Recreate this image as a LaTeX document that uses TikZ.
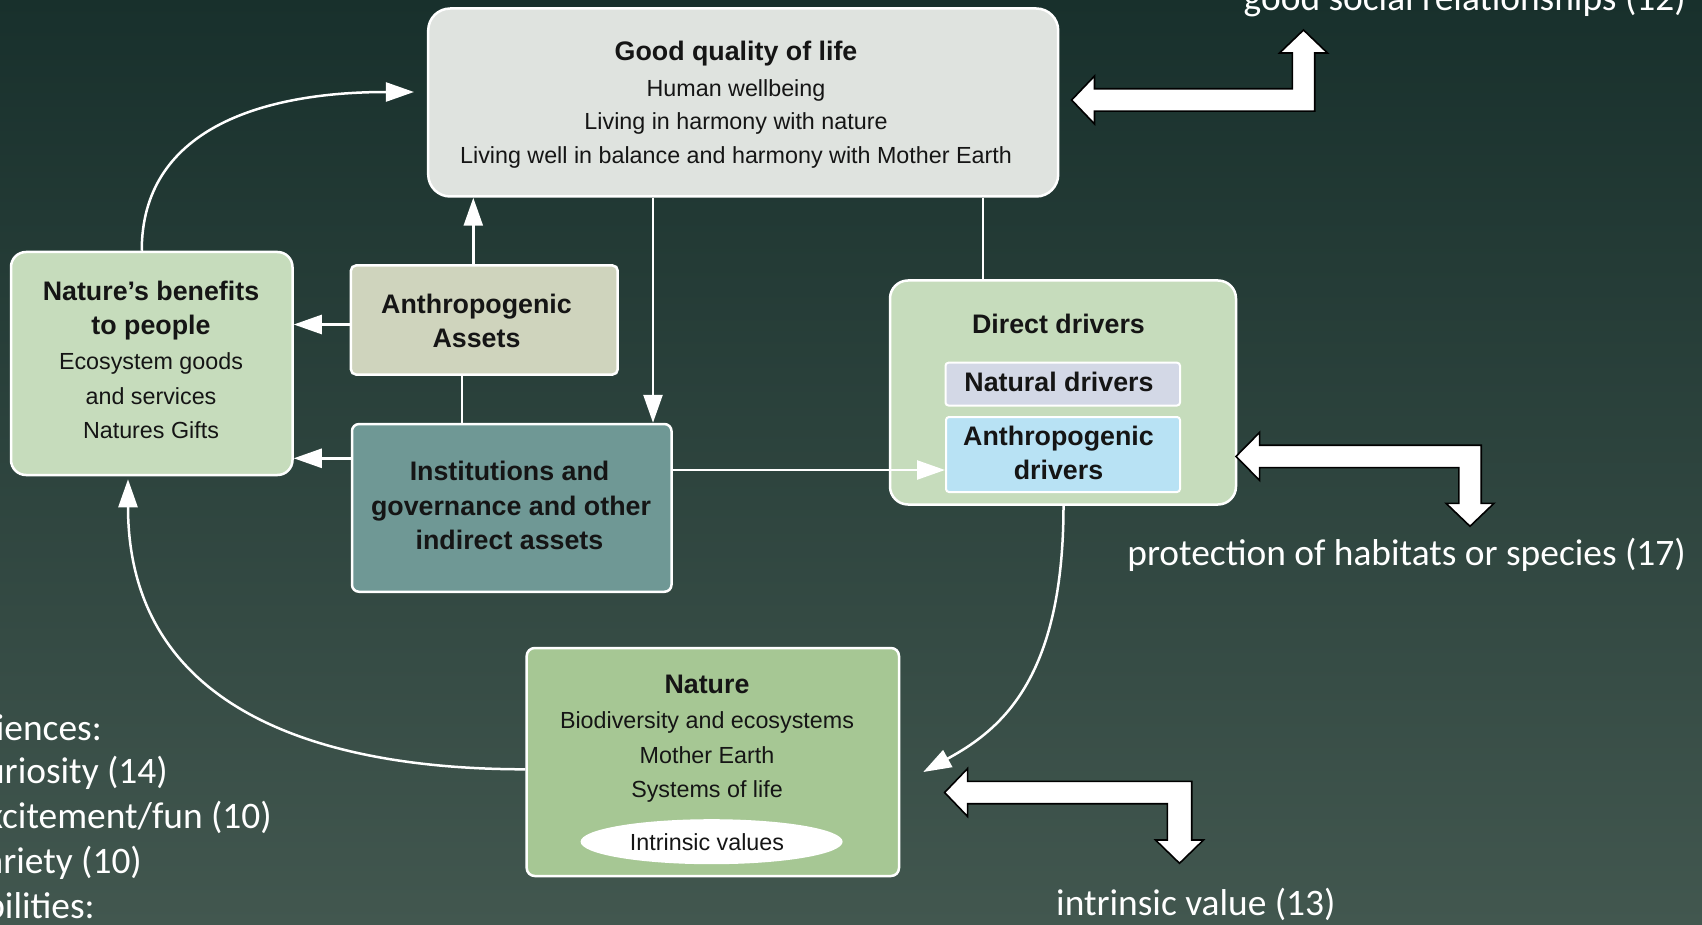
\documentclass[tikz,border=0pt]{standalone}
\usepackage{fontspec}
\setmainfont{Liberation Sans}
\newfontfamily\notefont{Carlito}
\usetikzlibrary{arrows.meta,shapes.geometric}

\definecolor{bgtop}{HTML}{18302C}
\definecolor{bgmid}{HTML}{2B423D}
\definecolor{bgbot}{HTML}{42574F}
\definecolor{inkc}{HTML}{151515}
\definecolor{gqfill}{HTML}{DFE3DF}
\definecolor{nbfill}{HTML}{C6DCBC}
\definecolor{aafill}{HTML}{CFD4BD}
\definecolor{instfill}{HTML}{6F9895}
\definecolor{ddfill}{HTML}{C6DCBC}
\definecolor{ndfill}{HTML}{D3D8E6}
\definecolor{adfill}{HTML}{B8E2F4}
\definecolor{natfill}{HTML}{A6C794}

\begin{document}
\begin{tikzpicture}[x=1pt,y=-1pt,
  box/.style={draw=white, line width=2.5pt, inner sep=0pt, rectangle},
  subbox/.style={draw=white, line width=2pt, inner sep=0pt, rectangle, rounded corners=3pt},
  link/.style={draw=white, line width=2.5pt},
  flow/.style={link, -{Triangle[length=28pt,width=19pt]}},
  head/.style={font=\fontsize{26.8}{30}\selectfont\bfseries, anchor=base, text=inkc, inner sep=0pt},
  body/.style={font=\fontsize{23.3}{27}\selectfont, anchor=base, text=inkc, inner sep=0pt},
  note/.style={font=\notefont\fontsize{37.4}{44}\selectfont, text=white, inner sep=0pt},
  elbow/.style={fill=white, draw=black, line width=1.6pt, line join=miter}
]
\useasboundingbox (0,0) rectangle (1702,925);

% background
\shade[top color=bgtop, middle color=bgmid, bottom color=bgbot] (0,0) rectangle (1702,925);

% ---------- boxes ----------
\node[box, fill=gqfill, rounded corners=22pt, minimum width=630pt, minimum height=188pt] (gq) at (743.2,102.5) {};
\node[box, fill=nbfill, rounded corners=15pt, minimum width=281.5pt, minimum height=223pt] (nb) at (151.75,363.5) {};
\node[box, fill=aafill, rounded corners=5pt, minimum width=266.7pt, minimum height=109pt] (aa) at (484.3,320) {};
\node[box, fill=instfill, rounded corners=7pt, minimum width=319.5pt, minimum height=167.7pt] (inst) at (511.75,507.9) {};
\node[box, fill=ddfill, rounded corners=18pt, minimum width=346pt, minimum height=224pt] (dd) at (1063,392.5) {};
\node[subbox, fill=ndfill, minimum width=234.5pt, minimum height=42.8pt] (nd) at (1062.75,384.1) {};
\node[subbox, fill=adfill, minimum width=234pt, minimum height=75pt] (ad) at (1063,454.5) {};
\node[box, fill=natfill, rounded corners=8pt, minimum width=372.3pt, minimum height=228pt] (nat) at (712.85,762) {};
\node[ellipse, fill=white, inner sep=0pt, minimum width=262pt, minimum height=45pt] (iv) at (711.6,841.7) {};

% ---------- box texts ----------
\node[head] (gq1) at (736,60.7) {Good quality of life};
\node[body] (gq2) at (736,96.7) {Human wellbeing};
\node[body] (gq3) at (736,130) {Living in harmony with nature};
\node[body] (gq4) at (736,164) {Living well in balance and harmony with Mother Earth};

\node[head] (nb1) at (151,300) {Nature’s benefits};
\node[head] (nb2) at (151,334.5) {to people};
\node[body] (nb3) at (151,369.5) {Ecosystem goods};
\node[body] (nb4) at (151,404) {and services};
\node[body] (nb5) at (151,438.5) {Natures Gifts};

\node[head] (aa1) at (476.5,313.3) {Anthropogenic};
\node[head] (aa2) at (476.5,347.7) {Assets};

\node[head] (in1) at (509.5,480) {Institutions and};
\node[head] (in2) at (511,515) {governance and other};
\node[head] (in3) at (509.5,549) {indirect assets};

\node[head] (dd1) at (1058.5,333.5) {Direct drivers};
\node[head] (nd1) at (1059,391.5) {Natural drivers};
\node[head] (ad1) at (1058.5,445) {Anthropogenic};
\node[head] (ad2) at (1058.5,479) {drivers};

\node[head] (na1) at (707,693.3) {Nature};
\node[body] (na2) at (707,728.3) {Biodiversity and ecosystems};
\node[body] (na3) at (707,763.3) {Mother Earth};
\node[body] (na4) at (707,797.3) {Systems of life};
\node[body] (iv1) at (707,850) {Intrinsic values};

% ---------- connectors ----------
\draw[flow] (aa.west |- 0,324.5) -- (nb.east |- 0,324.5);
\draw[flow] (inst.west |- 0,458.3) -- (nb.east |- 0,458.3);
\draw[flow] (aa.north -| 473.3,0) -- (gq.south -| 473.3,0);
\draw[link] (inst.north -| 462,0) -- (aa.south -| 462,0);
\draw[flow] (gq.south -| 653,0) -- (inst.north -| 653,0);
\draw[link] (gq.south -| 983,0) -- (dd.north -| 983,0);
\draw[flow] (inst.east |- 0,470) -- (ad.west |- 0,470);
\draw[flow] ([xshift=-10pt]nb.north) .. controls (141.6,130) and (260,92) .. ([xshift=-13pt,yshift=10.5pt]gq.west);
\draw[flow] (nat.west |- 0,769.3) .. controls (320,769.3) and (128,710) .. ([xshift=-23.75pt,yshift=-3pt]nb.south);
\draw[flow] (dd.south -| 1063.5,0) .. controls (1063.5,680) and (1000,730) .. ([xshift=23pt,yshift=-10pt]nat.east);

% ---------- elbow block arrows ----------
\draw[elbow] (1071.6,100) -- (1094.5,76) -- (1094.5,88.8) -- (1292.3,88.8) -- (1292.3,53)
  -- (1279.5,53) -- (1303.5,30) -- (1327.5,53) -- (1314.7,53) -- (1314.7,111.2)
  -- (1094.5,111.2) -- (1094.5,124) -- cycle;
\draw[elbow] (1236,456.4) -- (1259.6,432.4) -- (1259.6,445.2) -- (1481.2,445.2) -- (1481.2,503.3)
  -- (1494,503.3) -- (1470,526.3) -- (1446,503.3) -- (1458.8,503.3) -- (1458.8,467.6)
  -- (1259.6,467.6) -- (1259.6,480.4) -- cycle;
\draw[elbow] (944.6,792.5) -- (967.6,768.5) -- (967.6,781.3) -- (1191.7,781.3) -- (1191.7,840)
  -- (1203.5,840) -- (1179.5,863.3) -- (1155.5,840) -- (1167.3,840) -- (1167.3,803.7)
  -- (967.6,803.7) -- (967.6,816.5) -- cycle;

% ---------- notes ----------
\node[note, anchor=base east] (n1) at (1686,11) {good social relationships (12)};
\node[note, anchor=base east] (n2) at (1686,565.6) {protection of habitats or species (17)};
\node[note, anchor=base west] (n3) at (1056,915) {intrinsic value (13)};

\node[note, anchor=base east] (l1) at (102,740.7) {iences:};
\node[note, anchor=base east] (l2) at (168,783.3) {uriosity (14)};
\node[note, anchor=base east] (l3) at (272,828.3) {xcitement/fun (10)};
\node[note, anchor=base east] (l4) at (142,873.3) {ariety (10)};
\node[note, anchor=base east] (l5) at (95,918.3) {bilities:};

\end{tikzpicture}
\end{document}
